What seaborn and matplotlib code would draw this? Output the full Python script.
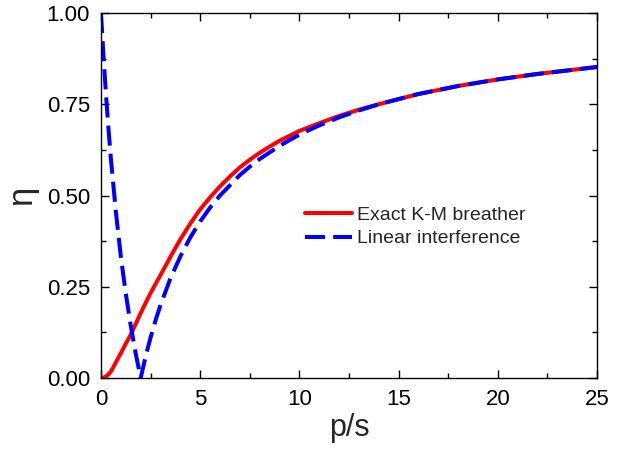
import numpy as np
import pandas as pd
import matplotlib
matplotlib.use("Agg")
import matplotlib.pyplot as plt
import seaborn as sns
from matplotlib.ticker import MultipleLocator

# Data
x_exact = [0, 0.125, 0.25, 0.375, 0.5, 0.625, 0.75, 1.0, 1.25, 1.5, 1.75, 2.0, 2.5,
           3.0, 3.5, 4.0, 4.5, 5.0, 5.5, 6.0, 6.5, 7.0, 7.5, 8.0, 8.5, 9.0, 10.0,
           11.0, 12.0, 13.0, 14.0, 16.0, 18.0, 20.0, 22.0, 25.0]
eta_exact = [0.0, 0.001, 0.004, 0.010, 0.018, 0.030, 0.043, 0.068, 0.094, 0.119,
             0.148, 0.178, 0.233, 0.282, 0.332, 0.380, 0.423, 0.462, 0.495, 0.525,
             0.552, 0.577, 0.598, 0.617, 0.634, 0.650, 0.677, 0.698, 0.718, 0.735,
             0.750, 0.778, 0.800, 0.818, 0.833, 0.852]

x_linear = [0, 0.125, 0.25, 0.375, 0.5, 0.75, 1.0, 1.25, 1.5, 1.75, 2.0, 2.25, 2.5,
            2.75, 3.0, 3.5, 4.0, 4.5, 5.0, 5.5, 6.0, 7.0, 7.5, 8.0, 9.0, 10.0,
            11.0, 12.0, 13.0, 14.0, 16.0, 18.0, 20.0, 22.0, 25.0]
eta_linear = [1.0, 0.882, 0.778, 0.684, 0.600, 0.455, 0.333, 0.231, 0.143, 0.067,
              0.0, 0.059, 0.111, 0.158, 0.200, 0.273, 0.333, 0.385, 0.429, 0.467,
              0.500, 0.556, 0.579, 0.600, 0.636, 0.667, 0.692, 0.714, 0.733, 0.750,
              0.778, 0.800, 0.818, 0.833, 0.852]

labels = ["Exact K-M breather", "Linear interference"]

df = pd.concat([
    pd.DataFrame({"x": x_exact, "eta": eta_exact, "series": labels[0]}),
    pd.DataFrame({"x": x_linear, "eta": eta_linear, "series": labels[1]}),
])

sns.set_style("ticks")
plt.rcParams["font.family"] = ["Liberation Sans", "DejaVu Sans"]

fig = plt.figure(figsize=(6.25, 4.49), dpi=100)
ax = fig.add_axes([101/625, 1 - 378/449, 496/625, 365/449])

sns.lineplot(data=df, x="x", y="eta", hue="series", style="series",
             palette={labels[0]: "#ff0000", labels[1]: "#0000ff"},
             dashes={labels[0]: "", labels[1]: (5.0, 2.0)},
             linewidth=2.9, ax=ax, sort=False)
for ln in ax.lines:
    ln.set_solid_joinstyle("round")
    ln.set_dash_joinstyle("round")

ax.set_xlim(0, 25)
ax.set_ylim(0, 1)
ax.xaxis.set_major_locator(MultipleLocator(5))
ax.xaxis.set_minor_locator(MultipleLocator(2.5))
ax.yaxis.set_major_locator(MultipleLocator(0.25))
ax.yaxis.set_minor_locator(MultipleLocator(0.125))
ax.yaxis.set_major_formatter(matplotlib.ticker.FormatStrFormatter("%.2f"))
ax.tick_params(which="both", direction="in", top=True, right=True, width=1.0,
               labelsize=16, colors="black")
ax.tick_params(which="major", length=6)
ax.tick_params(axis="x", which="major", pad=8)
ax.tick_params(axis="y", which="major", pad=8)
ax.tick_params(which="minor", length=3.5)
for sp in ax.spines.values():
    sp.set_linewidth(1.0)
    sp.set_color("black")

ax.set_xlabel("p/s", fontsize=22, labelpad=2)
ax.set_ylabel("η", fontsize=25, labelpad=6)

leg = ax.legend(loc="center left", bbox_to_anchor=(0.411, 0.414), frameon=False,
                fontsize=14, handlelength=2.4, handletextpad=0.3,
                borderpad=0, borderaxespad=0, labelspacing=0.3)

fig.savefig("out.png", dpi=100)
